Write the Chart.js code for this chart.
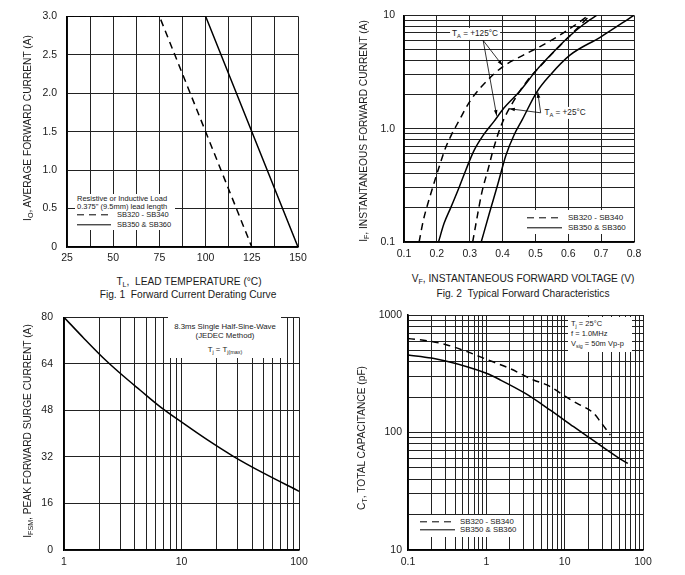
<!DOCTYPE html>
<html lang="en">
<head>
<meta charset="UTF-8">
<title>SB320 - SB360 Typical Characteristics</title>
<script src="https://cdn.jsdelivr.net/npm/chart.js"></script>
<style>
    body { margin: 0; background: #fff; font-family: "Liberation Sans", Arial, sans-serif; color: #1a1a1a; }
    #page { position: relative; width: 685px; height: 575px; overflow: hidden; }
    canvas { position: absolute; }
    .c, .l, .r { position: absolute; white-space: nowrap; line-height: 1; }
    .c { transform: translate(-50%, -50%); }
    .l { transform: translateY(-50%); }
    .r { transform: translate(-50%, -50%) rotate(-90deg); }
    .ttl { font-size: 10.2px; }
    .note { font-size: 7.5px; }
    .box { position: absolute; background: #fff; }
    sub { font-size: 70%; vertical-align: -0.3em; line-height: 0; }
    .solid { position: absolute; height: 1.4px; background: #000; transform: translateY(-50%); }
    .dash { position: absolute; height: 1.4px; transform: translateY(-50%);
            background: repeating-linear-gradient(90deg, #000 0 7px, transparent 7px 12px); }
</style>
</head>
<body>
<div id="page">
    <canvas id="fig1" width="320" height="272" style="left:0;top:0"></canvas>
    <canvas id="fig2" width="345" height="272" style="left:340px;top:0"></canvas>
    <canvas id="fig3" width="320" height="275" style="left:0;top:300px"></canvas>
    <canvas id="fig4" width="345" height="275" style="left:340px;top:300px"></canvas>

    <!-- Fig. 1 texts -->
    <div class="r ttl" style="left:28px;top:128px">I<sub>O</sub>, AVERAGE FORWARD CURRENT (A)</div>
    <div class="c ttl" style="left:189px;top:282px">T<sub>L</sub>,&nbsp; LEAD TEMPERATURE (°C)</div>
    <div class="c ttl" style="left:188px;top:295px">Fig. 1&nbsp; Forward Current Derating Curve</div>
    <div class="box" style="left:75px;top:194px;width:100px;height:36px"></div>
    <div class="l note" style="left:77px;top:199px">Resistive or Inductive Load</div>
    <div class="l note" style="left:77px;top:207px">0.375" (9.5mm) lead length</div>
    <div class="dash" style="left:77px;top:215px;width:33px"></div>
    <div class="l note" style="left:117px;top:215px">SB320 - SB340</div>
    <div class="solid" style="left:77px;top:224.5px;width:34px"></div>
    <div class="l note" style="left:117px;top:224.5px">SB350 &amp; SB360</div>

    <!-- Fig. 2 texts -->
    <div class="r ttl" style="left:364px;top:131px">I<sub>F</sub>, INSTANTANEOUS FORWARD CURRENT (A)</div>
    <div class="c ttl" style="left:523px;top:279px">V<sub>F</sub>, INSTANTANEOUS FORWARD VOLTAGE (V)</div>
    <div class="c ttl" style="left:523px;top:294px">Fig. 2&nbsp; Typical Forward Characteristics</div>
    <div class="c" style="left:475px;top:33.5px;font-size:8.2px;background:#fff;padding:2px 2px">T<sub>A</sub> = +125°C</div>
    <div class="c" style="left:565px;top:113px;font-size:8.2px;background:#fff;padding:2px 2px">T<sub>A</sub> = +25°C</div>
    <div class="box" style="left:523px;top:210px;width:110px;height:24px"></div>
    <div class="dash" style="left:527px;top:218px;width:35px"></div>
    <div class="l" style="left:568px;top:218px;font-size:8px">SB320 - SB340</div>
    <div class="solid" style="left:527px;top:228px;width:35px"></div>
    <div class="l" style="left:568px;top:228px;font-size:8px">SB350 &amp; SB360</div>

    <!-- Fig. 3 texts -->
    <div class="r ttl" style="left:28px;top:431px">I<sub>FSM</sub>, PEAK FORWARD SURGE CURRENT (A)</div>
    <div class="box" style="left:168px;top:317px;width:113px;height:41px"></div>
    <div class="c note" style="left:225px;top:327px;font-size:7.8px">8.3ms Single Half-Sine-Wave</div>
    <div class="c note" style="left:225px;top:336px;font-size:7.8px">(JEDEC Method)</div>
    <div class="c note" style="left:225px;top:350px;font-size:7.8px">T<sub>j</sub> = T<sub>j(max)</sub></div>

    <!-- Fig. 4 texts -->
    <div class="r ttl" style="left:362px;top:438px">C<sub>T</sub>, TOTAL CAPACITANCE (pF)</div>
    <div class="box" style="left:568px;top:317px;width:64px;height:35px"></div>
    <div class="l note" style="left:571px;top:324px">T<sub>j</sub> = 25°C</div>
    <div class="l note" style="left:571px;top:334px">f = 1.0MHz</div>
    <div class="l note" style="left:571px;top:344px">V<sub>sig</sub> = 50m Vp-p</div>
    <div class="box" style="left:416px;top:515px;width:104px;height:22px"></div>
    <div class="dash" style="left:420px;top:522px;width:35px"></div>
    <div class="l" style="left:460px;top:522px;font-size:7.8px">SB320 - SB340</div>
    <div class="solid" style="left:420px;top:530px;width:35px"></div>
    <div class="l" style="left:460px;top:530px;font-size:7.8px">SB350 &amp; SB360</div>
</div>

<script>
    // ---- Fig. 1 : forward current derating (T_L in degC, I_O in A)
    const fig1TempLow = [25, 75, 125];
    const fig1CurrLow = [3.0, 3.0, 0];
    const fig1TempHigh = [25, 100, 150];
    const fig1CurrHigh = [3.0, 3.0, 0];
    const fig1XGrid = [25, 37.5, 50, 62.5, 75, 87.5, 100, 112.5, 125, 137.5, 150];
    const fig1YGrid = [0, 0.5, 1.0, 1.5, 2.0, 2.5, 3.0];
    const fig1XTicks = [25, 50, 75, 100, 125, 150];
    const fig1XText = ['25', '50', '75', '100', '125', '150'];
    const fig1YTicks = [0, 0.5, 1.0, 1.5, 2.0, 2.5, 3.0];
    const fig1YText = ['0', '0.5', '1.0', '1.5', '2.0', '2.5', '3.0'];

    // ---- Fig. 2 : typical forward characteristics (V_F in V, I_F in A)
    const fig2VLow125 = [0.146, 0.159, 0.174, 0.194, 0.21, 0.225, 0.245, 0.265, 0.301, 0.336, 0.372, 0.402, 0.453, 0.514, 0.575, 0.636, 0.662];
    const fig2ILow125 = [0.1, 0.156, 0.225, 0.35, 0.49, 0.66, 0.89, 1.14, 1.75, 2.35, 3.0, 3.55, 4.3, 5.3, 6.7, 8.8, 10];
    const fig2VHigh125 = [0.205, 0.222, 0.242, 0.267, 0.288, 0.313, 0.343, 0.374, 0.404, 0.453, 0.504, 0.544, 0.6, 0.646, 0.686];
    const fig2IHigh125 = [0.1, 0.146, 0.2, 0.3, 0.43, 0.64, 0.89, 1.16, 1.52, 2.15, 3.3, 4.4, 6.4, 8.3, 10];
    const fig2VLow25 = [0.309, 0.321, 0.336, 0.357, 0.372, 0.397, 0.433, 0.473, 0.524, 0.575, 0.626, 0.666];
    const fig2ILow25 = [0.1, 0.156, 0.266, 0.45, 0.66, 1.09, 1.74, 2.6, 3.8, 5.4, 7.6, 10];
    const fig2VHigh25 = [0.335, 0.36, 0.385, 0.41, 0.435, 0.46, 0.504, 0.544, 0.605, 0.697, 0.8];
    const fig2IHigh25 = [0.1, 0.18, 0.32, 0.58, 0.88, 1.2, 2.1, 2.95, 4.45, 6.4, 10];
    const fig2XGrid = [0.1, 0.2, 0.3, 0.4, 0.5, 0.6, 0.7, 0.8];
    const fig2YGrid = [0.1, 0.2, 0.3, 0.4, 0.5, 0.6, 0.7, 0.8, 0.9, 1, 2, 3, 4, 5, 6, 7, 8, 9, 10];
    const fig2XTicks = [0.1, 0.2, 0.3, 0.4, 0.5, 0.6, 0.7, 0.8];
    const fig2XText = ['0.1', '0.2', '0.3', '0.4', '0.5', '0.6', '0.7', '0.8'];
    const fig2YTicks = [0.1, 1, 10];
    const fig2YText = ['0.1', '1.0', '10'];

    // ---- Fig. 3 : peak forward surge current vs number of cycles
    const fig3Cycles = [1, 1.46, 2.23, 3.2, 4.43, 6.56, 10.4, 16.4, 27.6, 50, 100];
    const fig3Surge = [80, 73.0, 65.5, 59.8, 55.0, 49.3, 43.5, 38.0, 32.2, 26.4, 20.2];
    const fig3XGrid = [1, 2, 3, 4, 5, 6, 7, 8, 9, 10, 20, 30, 40, 50, 60, 70, 80, 90, 100];
    const fig3YGrid = [0, 16, 32, 48, 64, 80];
    const fig3XTicks = [1, 10, 100];
    const fig3XText = ['1', '10', '100'];
    const fig3YTicks = [0, 16, 32, 48, 64, 80];
    const fig3YText = ['0', '16', '32', '48', '64', '80'];

    // ---- Fig. 4 : total capacitance vs reverse voltage
    const fig4VLow = [0.1, 0.2, 0.315, 0.566, 1, 2, 4, 5.94, 11.2, 14.4, 23.4, 28.5, 38.3];
    const fig4CLow = [632, 595, 556, 488, 420, 350, 280, 254, 195, 177, 146, 124, 95];
    const fig4VHigh = [0.1, 0.2, 0.566, 1, 1.51, 3.15, 6.56, 13, 21.3, 46.6, 64];
    const fig4CHigh = [457, 430, 363, 319, 280, 215, 155, 112, 89, 62, 54.5];
    const fig4XGrid = [0.1, 0.2, 0.3, 0.4, 0.5, 0.6, 0.7, 0.8, 0.9, 1, 2, 3, 4, 5, 6, 7, 8, 9, 10, 20, 30, 40, 50, 60, 70, 80, 90, 100];
    const fig4YGrid = [10, 20, 30, 40, 50, 60, 70, 80, 90, 100, 200, 300, 400, 500, 600, 700, 800, 900, 1000];
    const fig4XTicks = [0.1, 1, 10, 100];
    const fig4XText = ['0.1', '1', '10', '100'];
    const fig4YTicks = [10, 100, 1000];
    const fig4YText = ['10', '100', '1000'];

    const FONT = '"Liberation Sans", Arial, sans-serif';
    const INK = '#1a1a1a';

    const pts = (xs, ys) => xs.map((x, i) => ({x: x, y: ys[i]}));
    const labeller = (vals, texts) => v => {
        const i = vals.findIndex(t => Math.abs(t - v) < 1e-6 * Math.max(1, Math.abs(t)));
        return i < 0 ? '' : texts[i];
    };

    function line(data, dashed, smooth) {
        return {
            data: data,
            borderColor: '#000',
            borderWidth: 1.5,
            borderDash: dashed ? [7, 5] : [],
            pointRadius: 0,
            fill: false,
            tension: 0,
            cubicInterpolationMode: smooth ? 'monotone' : 'default'
        };
    }

    // box: canvas rect and plot-area rect, in page pixels
    function axis(type, min, max, grid, fmt, pad, isX, box) {
        return {
            type: type, min: min, max: max,
            afterBuildTicks: s => { s.ticks = grid.map(v => ({value: v})); },
            afterFit: s => {
                if (isX) s.height = box.top + box.h - box.pb;
                else s.width = box.pl - box.left;
            },
            grid: {color: '#222', lineWidth: 1, drawTicks: false},
            border: {color: '#000', width: 1.6},
            ticks: {
                autoSkip: false, maxRotation: 0, minRotation: 0, padding: pad,
                color: INK, font: {family: FONT, size: 10.5},
                callback: v => fmt(v)
            }
        };
    }

    function panel(id, box, x, y, datasets, plugins) {
        new Chart(document.getElementById(id), {
            type: 'line',
            data: {datasets: datasets},
            options: {
                responsive: false, animation: false, devicePixelRatio: 1,
                layout: {padding: {top: box.pt - box.top, right: box.left + box.w - box.pr, left: 0, bottom: 0}},
                plugins: {legend: {display: false}, tooltip: {enabled: false}},
                scales: {x: x, y: y}
            },
            plugins: plugins || []
        });
    }

    // arrows of the T_A call-outs on Fig. 2, anchored in data units
    const arrowPlugin = {
        id: 'arrows',
        afterDatasetsDraw(chart) {
            const {ctx, scales: {x, y}} = chart;
            const arrows = [
                [[0.341, 6.0], [0.4, 3.6]],
                [[0.341, 6.0], [0.382, 1.3]],
                [[0.516, 1.38], [0.42, 1.5]],
                [[0.516, 1.38], [0.507, 2.1]]
            ];
            ctx.save();
            ctx.strokeStyle = '#000';
            ctx.fillStyle = '#000';
            ctx.lineWidth = 0.8;
            arrows.forEach(([a, b]) => {
                const x0 = x.getPixelForValue(a[0]), y0 = y.getPixelForValue(a[1]);
                const x1 = x.getPixelForValue(b[0]), y1 = y.getPixelForValue(b[1]);
                const ang = Math.atan2(y1 - y0, x1 - x0);
                ctx.beginPath();
                ctx.moveTo(x0, y0);
                ctx.lineTo(x1, y1);
                ctx.stroke();
                ctx.beginPath();
                ctx.moveTo(x1, y1);
                ctx.lineTo(x1 - 6 * Math.cos(ang - 0.3), y1 - 6 * Math.sin(ang - 0.3));
                ctx.lineTo(x1 - 6 * Math.cos(ang + 0.3), y1 - 6 * Math.sin(ang + 0.3));
                ctx.closePath();
                ctx.fill();
            });
            ctx.restore();
        }
    };

    const b1 = {left: 0, top: 0, w: 320, h: 272, pl: 67, pt: 14, pr: 298, pb: 247};
    panel('fig1', b1,
        axis('linear', 25, 150, fig1XGrid, labeller(fig1XTicks, fig1XText), 5, true, b1),
        axis('linear', 0, 3, fig1YGrid, labeller(fig1YTicks, fig1YText), 10, false, b1),
        [line(pts(fig1TempLow, fig1CurrLow), true, false), line(pts(fig1TempHigh, fig1CurrHigh), false, false)]);

    const b2 = {left: 340, top: 0, w: 345, h: 272, pl: 404, pt: 13, pr: 634, pb: 242};
    panel('fig2', b2,
        axis('linear', 0.1, 0.8, fig2XGrid, labeller(fig2XTicks, fig2XText), 6, true, b2),
        axis('logarithmic', 0.1, 10, fig2YGrid, labeller(fig2YTicks, fig2YText), 9, false, b2),
        [line(pts(fig2VLow125, fig2ILow125), true, true), line(pts(fig2VHigh125, fig2IHigh125), false, true),
         line(pts(fig2VLow25, fig2ILow25), true, true), line(pts(fig2VHigh25, fig2IHigh25), false, true)],
        [arrowPlugin]);

    const b3 = {left: 0, top: 300, w: 320, h: 275, pl: 64, pt: 315, pr: 299, pb: 550};
    panel('fig3', b3,
        axis('logarithmic', 1, 100, fig3XGrid, labeller(fig3XTicks, fig3XText), 6, true, b3),
        axis('linear', 0, 80, fig3YGrid, labeller(fig3YTicks, fig3YText), 11, false, b3),
        [line(pts(fig3Cycles, fig3Surge), false, true)]);

    const b4 = {left: 340, top: 300, w: 345, h: 275, pl: 408, pt: 315, pr: 643, pb: 550};
    panel('fig4', b4,
        axis('logarithmic', 0.1, 100, fig4XGrid, labeller(fig4XTicks, fig4XText), 6, true, b4),
        axis('logarithmic', 10, 1000, fig4YGrid, labeller(fig4YTicks, fig4YText), 6, false, b4),
        [line(pts(fig4VLow, fig4CLow), true, true), line(pts(fig4VHigh, fig4CHigh), false, true)]);
</script>
</body>
</html>
